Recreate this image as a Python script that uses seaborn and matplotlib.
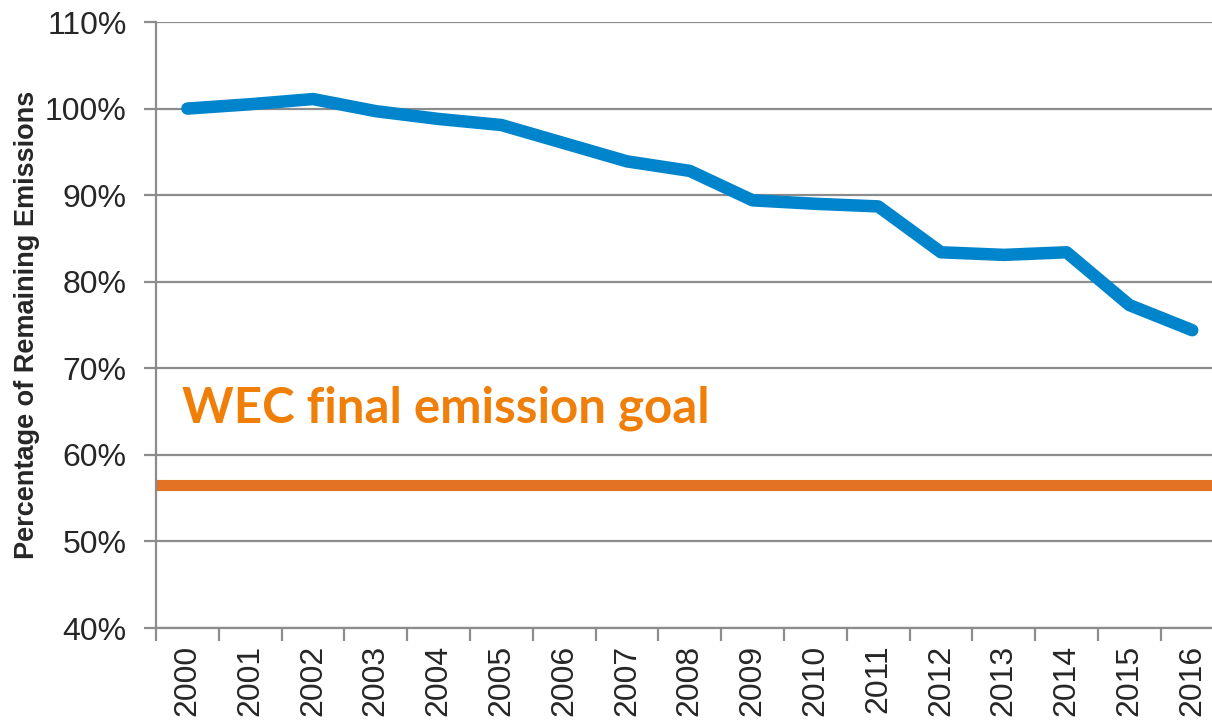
import matplotlib
matplotlib.use("Agg")
import matplotlib.pyplot as plt
import seaborn as sns
import pandas as pd
from matplotlib.ticker import PercentFormatter

# data
years = [str(y) for y in range(2000, 2017)]
remaining = [100.0, 100.5, 101.1, 99.7, 98.8, 98.1, 96.0, 93.9, 92.8, 89.4,
             89.0, 88.7, 83.4, 83.1, 83.4, 77.3, 74.4]
goal = 56.5
goal_label = "WEC final emission goal"

df = pd.DataFrame({"year": years, "remaining": remaining})

sns.set_theme(style="white")
plt.rcParams["font.family"] = ["Liberation Sans", "DejaVu Sans"]

fig = plt.figure(figsize=(12.12, 7.21), dpi=100)
ax = fig.add_axes([156 / 1212, 93 / 721, 1067.6 / 1212, 606 / 721])

grid_col = "#8c8c8c"
ax.set_ylim(40, 110)
ax.set_xlim(-0.5, len(years) - 0.5)
ax.set_yticks(range(40, 111, 10))
ax.yaxis.set_major_formatter(PercentFormatter(decimals=0))
ax.grid(axis="y", color=grid_col, linewidth=1.6)
ax.set_axisbelow(True)

# goal line across the whole plot
ax.axhline(goal, color="#e37222", linewidth=8, solid_capstyle="butt", zorder=2)

sns.lineplot(data=df, x="year", y="remaining", ax=ax, color="#0085cc",
             linewidth=9, sort=False, zorder=3)
for ln in ax.lines:
    ln.set_solid_capstyle("round")
    ln.set_solid_joinstyle("round")

ax.text(-0.09, 63.7, goal_label, color="#f07f09", fontsize=35.5,
        fontweight="bold", family=["Lato", "DejaVu Sans"], ha="left",
        va="baseline")

# category ticks between years, labels at centres (Excel style)
ax.set_xticks([i for i in range(len(years))])
ax.set_xticklabels(years, rotation=90, fontsize=23)
ax.set_xticks([i - 0.5 for i in range(len(years) + 1)], minor=True)
ax.tick_params(axis="x", which="major", length=0, pad=12)
ax.tick_params(axis="x", which="minor", length=9, width=1.6, color=grid_col,
               direction="out", bottom=True)
ax.tick_params(axis="y", length=9, width=1.6, color=grid_col, direction="out",
               left=True, labelsize=23, pad=12)

for s in ["top", "right"]:
    ax.spines[s].set_visible(False)
for s in ["left", "bottom"]:
    ax.spines[s].set_color(grid_col)
    ax.spines[s].set_linewidth(1.6)

ax.set_xlabel("")
ax.set_ylabel("Percentage of Remaining Emissions", fontsize=19.5,
              fontweight="bold")
ax.yaxis.set_label_coords((40 - 156) / 1067.6, 0.5)

fig.savefig("out.png", dpi=100)
